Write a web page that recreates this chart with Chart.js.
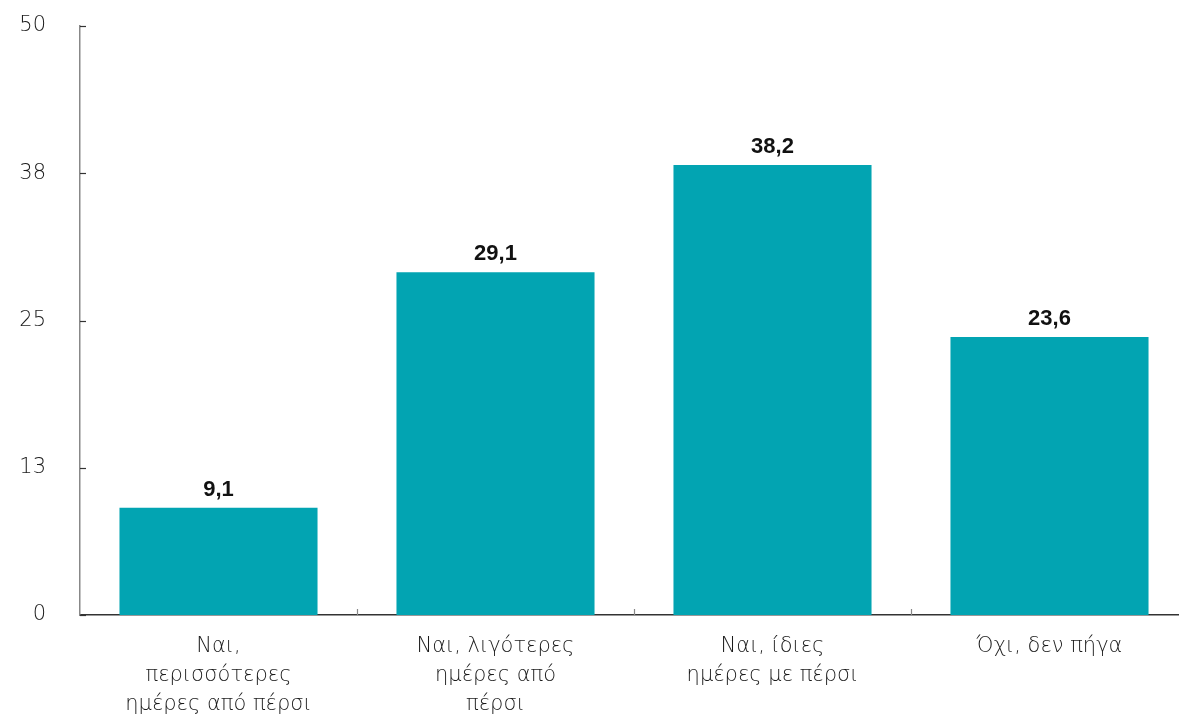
<!DOCTYPE html>
<html>
<head>
<meta charset="utf-8">
<script src="https://cdn.jsdelivr.net/npm/chart.js@4"></script>
<style>
  html, body { margin: 0; padding: 0; background: #fff; overflow: hidden; }
  #wrap { width: 1188px; height: 718px; }
</style>
</head>
<body>
<div id="wrap"><canvas id="myChart"></canvas></div>
<script>
// chart data
var categories = [
  ['Ναι,', 'περισσότερες', 'ημέρες από πέρσι'],
  ['Ναι, λιγότερες', 'ημέρες από', 'πέρσι'],
  ['Ναι, ίδιες', 'ημέρες με πέρσι'],
  ['Όχι, δεν πήγα']
];
var values = [9.1, 29.1, 38.2, 23.6];
var yTicks = [0, 12.5, 25, 37.5, 50];

var barColor = '#02A4B2';
var labelFont = '"DejaVu Sans", sans-serif';

// bold value labels + small inward tick marks
var extras = {
  id: 'extras',
  afterDatasetsDraw: function (chart) {
    var ctx = chart.ctx;
    var area = chart.chartArea;
    var y = chart.scales.y;
    var x = chart.scales.x;
    ctx.save();
    ctx.strokeStyle = '#333';
    ctx.lineWidth = 1.2;
    yTicks.forEach(function (v) {
      var py = Math.round(y.getPixelForValue(v)) + 0.5;
      ctx.beginPath();
      ctx.moveTo(area.left, py);
      ctx.lineTo(area.left + 6, py);
      ctx.stroke();
    });
    ctx.strokeStyle = '#888';
    for (var i = 1; i < categories.length; i++) {
      var px = Math.round((x.getPixelForTick(i - 1) + x.getPixelForTick(i)) / 2) + 0.5;
      ctx.beginPath();
      ctx.moveTo(px, area.bottom);
      ctx.lineTo(px, area.bottom - 6);
      ctx.stroke();
    }
    var meta = chart.getDatasetMeta(0);
    ctx.fillStyle = '#111';
    ctx.font = 'bold 22px "Liberation Sans", Arial, sans-serif';
    ctx.textAlign = 'center';
    ctx.textBaseline = 'bottom';
    meta.data.forEach(function (bar, i) {
      ctx.fillText(values[i].toFixed(1).replace('.', ','), bar.x, bar.y - 7);
    });
    ctx.restore();
  }
};

var ctx = document.getElementById('myChart').getContext('2d');
var myChart = new Chart(ctx, {
  type: 'bar',
  data: {
    labels: categories,
    datasets: [{
      data: values,
      backgroundColor: barColor,
      barPercentage: 0.715,
      categoryPercentage: 1
    }]
  },
  options: {
    responsive: true,
    maintainAspectRatio: false,
    animation: false,
    layout: { padding: 0 },
    plugins: {
      legend: { display: false },
      tooltip: { enabled: false }
    },
    scales: {
      x: {
        grid: { display: false, drawTicks: false },
        border: { display: true, color: '#333', width: 1.5 },
        ticks: {
          color: '#1a1a1a',
          padding: 17,
          font: { family: labelFont, size: 21, weight: 300, lineHeight: '29px' }
        },
        afterFit: function (scale) { scale.height = 103; }
      },
      y: {
        min: 0,
        max: 50,
        afterBuildTicks: function (scale) {
          scale.ticks = yTicks.map(function (v) { return { value: v }; });
        },
        grid: { display: false, drawTicks: false },
        border: { display: true, color: '#888', width: 1.5 },
        ticks: {
          color: '#1a1a1a',
          padding: 34,
          font: { family: labelFont, size: 21, weight: 300 },
          callback: function (v) { return Math.round(v); }
        },
        afterFit: function (scale) {
          scale.width = 80;
          scale.paddingTop = 26;
          scale.paddingBottom = 0;
        }
      }
    }
  },
  plugins: [extras]
});
</script>
</body>
</html>
